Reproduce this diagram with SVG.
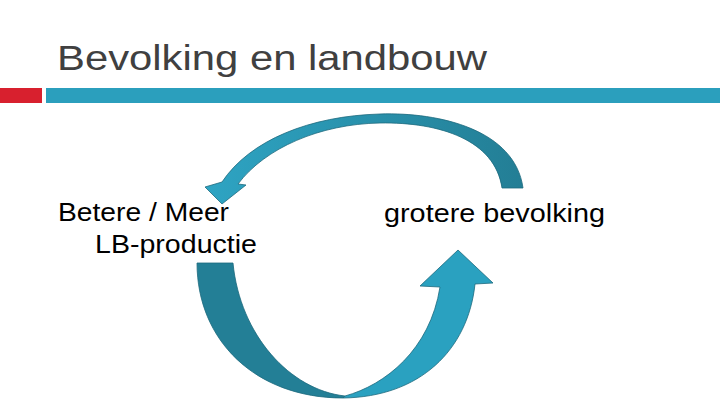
<svg xmlns="http://www.w3.org/2000/svg" width="720" height="405" viewBox="0 0 720 405">
  <style>
    .title { font-family: "Liberation Sans", Arial, sans-serif; font-size: 35px; fill: #404040; }
    .label { font-family: "Liberation Sans", Arial, sans-serif; font-size: 25px; fill: #000000; }
    .arrow { stroke: #1d6a7d; stroke-width: 0.8; stroke-linejoin: miter; }
  </style>
  <defs>
    <linearGradient id="gTop" x1="205" y1="0" x2="523" y2="0" gradientUnits="userSpaceOnUse">
      <stop offset="0" stop-color="#2ea4c3"/>
      <stop offset="1" stop-color="#237e95"/>
    </linearGradient>
  </defs>
  <rect width="720" height="405" fill="#ffffff"/>
  <g id="title">
    <text class="title" x="57" y="70" textLength="430" lengthAdjust="spacingAndGlyphs">Bevolking en landbouw</text>
  </g>
  <g id="header-bars">
    <rect x="0" y="88" width="42" height="15" fill="#d8202e"/>
    <rect x="46" y="88" width="674" height="15" fill="#2b9fbd"/>
  </g>
  <g id="node-productie">
    <text class="label" x="58" y="221" textLength="171" lengthAdjust="spacingAndGlyphs">Betere / Meer</text>
    <text class="label" x="95" y="253" textLength="162" lengthAdjust="spacingAndGlyphs">LB-productie</text>
  </g>
  <g id="node-bevolking">
    <text class="label" x="384" y="222" textLength="221" lengthAdjust="spacingAndGlyphs">grotere bevolking</text>
  </g>
  <g id="connectors">
    <path class="arrow" fill="url(#gTop)" d="M523,188 C515,130 440,112 380,114 C310,116 250,140 222,182 L205,187 L222,204 L246,185 L238,184 C265,148 320,124 380,123 C440,122 495,140 502,188 Z"/>
    <path class="arrow" fill="#237f96" d="M197,263 L233,263 C240,335 290,390 345,396 L343,398 C255,398 197,340 197,263 Z"/>
    <path class="arrow" fill="#2aa1c0" d="M343,398 L345,396 C385,385 430,350 440,287 L420,286 L458,250 L493,283 L475,284 C468,350 420,397 343,398 Z"/>
  </g>
</svg>
